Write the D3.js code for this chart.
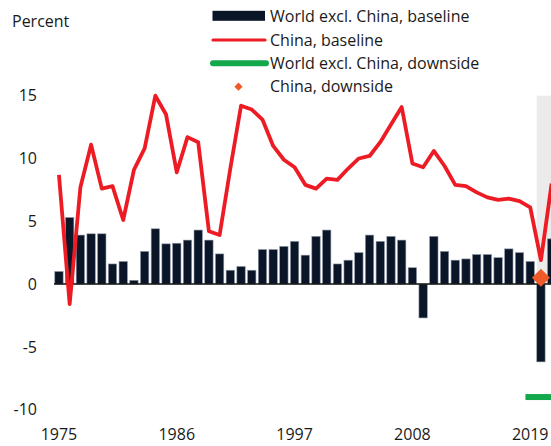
<!DOCTYPE html>
<html><head><meta charset="utf-8">
<script src="https://cdn.jsdelivr.net/npm/d3@7"></script>
<style>
body{margin:0;background:#fff}
svg{display:block}
text{font-family:"Open Sans",sans-serif;fill:#1a1a1a;font-size:16px}
</style>
</head><body><svg id="c" width="551" height="446"></svg>
<script>
const years = [1975,1976,1977,1978,1979,1980,1981,1982,1983,1984,1985,1986,1987,1988,1989,1990,1991,1992,1993,1994,1995,1996,1997,1998,1999,2000,2001,2002,2003,2004,2005,2006,2007,2008,2009,2010,2011,2012,2013,2014,2015,2016,2017,2018,2019,2020,2021];
const worldBaseline = [1.0,5.3,3.9,4.0,4.0,1.6,1.8,0.3,2.6,4.4,3.2,3.25,3.5,4.3,3.5,2.4,1.1,1.4,1.1,2.75,2.75,3.0,3.4,2.3,3.8,4.3,1.6,1.9,2.5,3.9,3.4,3.8,3.5,1.3,-2.7,3.8,2.6,1.9,2.0,2.35,2.35,2.1,2.8,2.5,1.8,-6.2,3.6];
const chinaBaseline = [8.7,-1.6,7.7,11.1,7.6,7.8,5.1,9.1,10.8,15.0,13.5,8.9,11.7,11.3,4.2,3.9,9.2,14.2,13.9,13.1,11.0,9.9,9.3,7.9,7.6,8.4,8.3,9.2,10.0,10.2,11.3,12.7,14.1,9.6,9.3,10.6,9.4,7.9,7.8,7.3,6.9,6.7,6.8,6.6,6.1,1.9,8.0];
const downsideYears = [2020];
const worldDownside = [-9.0];
const chinaDownside = [0.5];
const forecastYears = [2020, 2021];
const yTicks = [-10,-5,0,5,10,15];
const xTickYears = [1975,1986,1997,2008,2019];
const legendLabels = ["World excl. China, baseline","China, baseline","World excl. China, downside","China, downside"];

const C = {bar:"#0b1528", red:"#ed1c24", green:"#13a84b", orange:"#f05a28", shade:"#ebebeb"};

const svg = d3.select("#c");
const x = d3.scaleBand().domain(years).range([53.6, 557]).paddingInner(0.22).paddingOuter(0.11);
const y = d3.scaleLinear().domain([-10, 15]).range([409.6, 95.7]);
const bw = x.bandwidth();
const cx = yr => x(yr) + bw/2;

// forecast shading
svg.append("rect")
  .attr("x", x(forecastYears[0]))
  .attr("y", y(15))
  .attr("width", x(forecastYears[forecastYears.length-1]) + x.step() - x(forecastYears[0]))
  .attr("height", y(0) - y(15))
  .attr("fill", C.shade);

// bars
svg.append("g").selectAll("rect").data(years.map((yr,i)=>({yr, v:worldBaseline[i]})))
  .join("rect")
  .attr("x", d=>x(d.yr)).attr("width", bw)
  .attr("y", d=>y(Math.max(0,d.v)))
  .attr("height", d=>Math.abs(y(d.v)-y(0)))
  .attr("fill", C.bar).attr("stroke","#8f98a6").attr("stroke-width",0.6);

// zero line
svg.append("line").attr("x1",54).attr("x2",551).attr("y1",y(0)).attr("y2",y(0))
  .attr("stroke","#111").attr("stroke-width",1.6);

// China baseline line
const line = d3.line().x(d=>cx(d.yr)).y(d=>y(d.v));
svg.append("path").datum(years.map((yr,i)=>({yr, v:chinaBaseline[i]})))
  .attr("d", line).attr("fill","none").attr("stroke",C.red)
  .attr("stroke-width",3.8).attr("stroke-linejoin","round");

// World downside dash marker
svg.append("g").selectAll("line").data(downsideYears.map((yr,i)=>({yr, v:worldDownside[i]})))
  .join("line")
  .attr("x1", d=>cx(d.yr)-15.5).attr("x2", d=>cx(d.yr)+15.5)
  .attr("y1", d=>y(d.v)).attr("y2", d=>y(d.v))
  .attr("stroke", C.green).attr("stroke-width", 6);

// China downside diamond
const diamond = d3.symbol(d3.symbolSquare, 165);
svg.append("g").selectAll("path").data(downsideYears.map((yr,i)=>({yr, v:chinaDownside[i]})))
  .join("path")
  .attr("d", diamond)
  .attr("transform", d=>`translate(${cx(d.yr)},${y(d.v)}) rotate(45)`)
  .attr("fill", C.orange);

// y tick labels
svg.append("g").selectAll("text").data(yTicks).join("text")
  .attr("x",37).attr("y",d=>y(d)+5.7).attr("text-anchor","end").text(d=>d);

// x tick labels
svg.append("g").selectAll("text").data(xTickYears).join("text")
  .attr("x",d=>cx(d)).attr("y",439.5).attr("text-anchor","middle").text(d=>d);

// axis title
svg.append("text").attr("x",12).attr("y",26.5).text("Percent");

// legend
const lg = svg.append("g");
const rowY = [15.8, 40, 63.3, 86.7];
lg.append("rect").attr("x",212.5).attr("y",rowY[0]-5).attr("width",52.5).attr("height",10).attr("fill",C.bar);
lg.append("line").attr("x1",213).attr("x2",265).attr("y1",rowY[1]).attr("y2",rowY[1])
  .attr("stroke",C.red).attr("stroke-width",3.2).attr("stroke-linecap","round");
lg.append("line").attr("x1",213).attr("x2",266).attr("y1",rowY[2]).attr("y2",rowY[2])
  .attr("stroke",C.green).attr("stroke-width",6).attr("stroke-linecap","round");
lg.append("path").attr("d", d3.symbol(d3.symbolSquare, 34))
  .attr("transform",`translate(238.5,${rowY[3]}) rotate(45)`).attr("fill",C.orange);
lg.selectAll("text.l").data(legendLabels).join("text").attr("class","l")
  .attr("x",270).attr("y",(d,i)=>rowY[i]+5.7).text(d=>d);
</script>
</body></html>
